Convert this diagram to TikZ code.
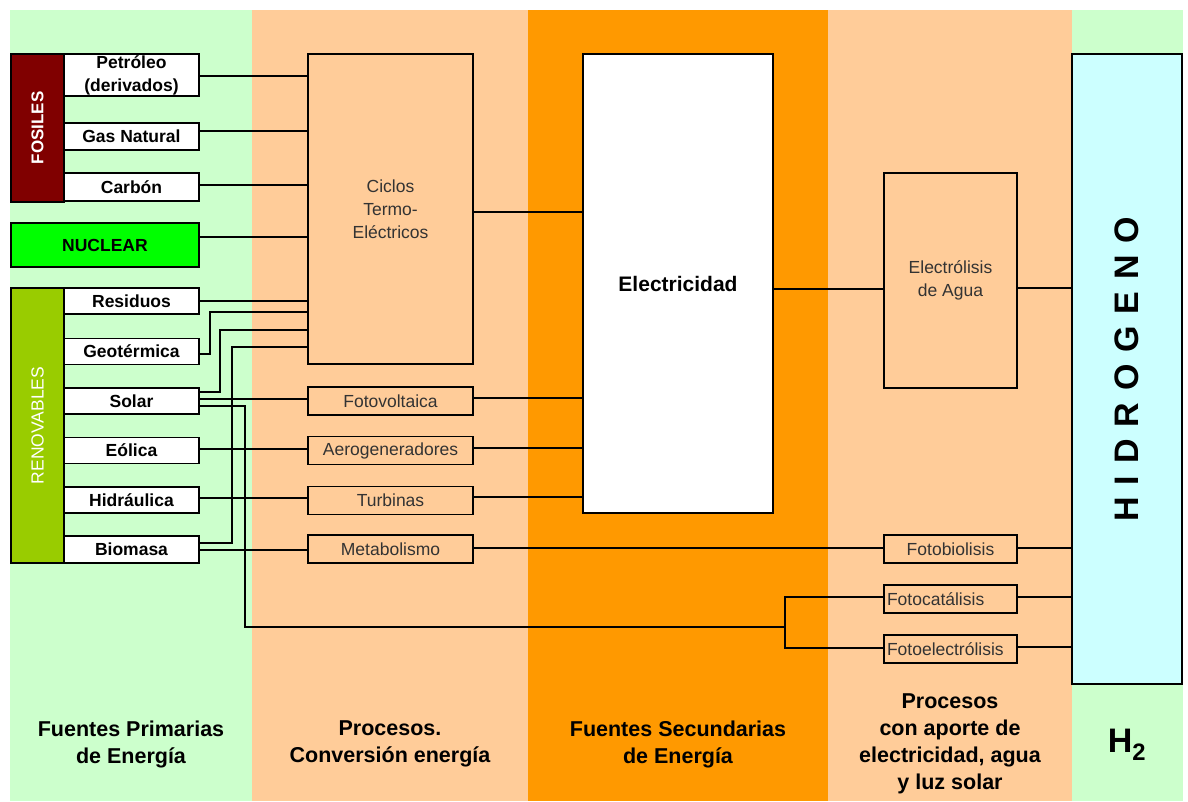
\documentclass[tikz,border=0pt]{standalone}
\usepackage{fontspec}
\setmainfont{Liberation Sans}
\definecolor{lgreen}{HTML}{CCFFCC}
\definecolor{lorange}{HTML}{FFCC99}
\definecolor{dorange}{HTML}{FF9900}
\definecolor{lcyan}{HTML}{CCFFFF}
\definecolor{fosred}{HTML}{800000}
\definecolor{nucgreen}{HTML}{00FF00}
\definecolor{rengreen}{HTML}{99CC00}
\definecolor{txtgray}{HTML}{333333}
\tikzset{
 box/.style={draw=black, line width=1.6pt, inner sep=0pt, align=center},
 src/.style={box, fill=white, minimum width=135pt, minimum height=26pt, font=\fontsize{17.5}{23}\selectfont\bfseries},
 proc/.style={box, fill=lorange, minimum width=165pt, minimum height=28pt, font=\fontsize{17.5}{23}\selectfont, text=txtgray},
 hproc/.style={proc, minimum width=133pt},
 link/.style={draw=black, line width=1.1pt},
 coltitle/.style={font=\fontsize{21.5}{27}\selectfont\bfseries, align=center},
}
\begin{document}
\begin{tikzpicture}[x=1pt,y=-1pt]
\useasboundingbox (0,0) rectangle (1188,801);
% columns
\fill[lgreen] (10,10) rectangle (252,801);
\fill[lorange] (252,10) rectangle (528,801);
\fill[dorange] (528,10) rectangle (828,801);
\fill[lorange] (828,10) rectangle (1072,801);
\fill[lgreen] (1072,10) rectangle (1183,801);

% primary sources
\node[box, fill=fosred, rotate=90, minimum width=148pt, minimum height=53pt, text=white, font=\fontsize{17}{20}\selectfont\bfseries] (fos) at (37.5,128) {FOSILES};
\node[src, minimum height=42pt] (petro) at (131.5,75) {Petróleo\\(derivados)};
\node[src, minimum height=27pt] (gas) at (131.5,136.5) {Gas Natural};
\node[src, minimum height=28pt] (carbon) at (131.5,187) {Carbón};
\node[box, fill=nucgreen, minimum width=188pt, minimum height=44pt, font=\fontsize{17.5}{20}\selectfont\bfseries] (nuc) at (105,245) {NUCLEAR};
\node[box, fill=rengreen, rotate=90, minimum width=275pt, minimum height=53pt, text=white, font=\fontsize{17.5}{20}\selectfont] (ren) at (37.5,425.5) {RENOVABLES};
\node[src] (resid) at (131.5,301) {Residuos};
\node[src] (geo) at (131.5,351.5) {Geotérmica};
\node[src] (solar) at (131.5,401) {Solar};
\node[src] (eol) at (131.5,450.5) {Eólica};
\node[src] (hid) at (131.5,500) {Hidráulica};
\node[src, minimum height=27pt] (bio) at (131.5,549.5) {Biomasa};

% conversion processes
\node[proc, minimum height=310pt] (ciclos) at (390.5,209) {Ciclos\\Termo-\\Eléctricos};
\node[proc] (fv) at (390.5,401) {Fotovoltaica};
\node[proc] (aero) at (390.5,450.5) {Aerogeneradores};
\node[proc] (turb) at (390.5,500.5) {Turbinas};
\node[proc] (metab) at (390.5,549) {Metabolismo};

% secondary
\node[box, fill=white, minimum width=190pt, minimum height=459pt, font=\fontsize{21}{25}\selectfont\bfseries] (elec) at (678,283.5) {Electricidad};

% hydrogen processes
\node[hproc, minimum height=215pt] (ely) at (950.5,280.5) {Electrólisis\\de Agua};
\node[hproc] (fbio) at (950.5,549) {Fotobiolisis};
\node[hproc, text width=127pt, align=left] (fcat) at (950.5,599) {Fotocatálisis};
\node[hproc, text width=127pt, align=left] (fel) at (950.5,649) {Fotoelectrólisis};

% hydrogen
\node[box, fill=lcyan, rotate=90, minimum width=630pt, minimum height=110pt, font=\fontsize{34}{40}\selectfont\bfseries\addfontfeature{LetterSpace=35}] (h2box) at (1127,369) {HIDROGENO};
\coordinate (h2left) at (1072,369);

% connectors
\draw[link] (petro.east |- 0,76) -- (ciclos.west |- 0,76);
\draw[link] (gas.east |- 0,131) -- (ciclos.west |- 0,131);
\draw[link] (carbon.east |- 0,185) -- (ciclos.west |- 0,185);
\draw[link] (nuc.east |- 0,237) -- (ciclos.west |- 0,237);
\draw[link] (resid.east |- 0,301) -- (ciclos.west |- 0,301);
\draw[link] (geo.east |- 0,354) -- (210,354) -- (210,312) -- (ciclos.west |- 0,312);
\draw[link] (solar.east |- 0,392) -- (220,392) -- (220,330) -- (ciclos.west |- 0,330);
\draw[link] (bio.east |- 0,543) -- (232,543) -- (232,347) -- (ciclos.west |- 0,347);
\draw[link] (solar.east |- 0,399) -- (fv.west |- 0,399);
\draw[link] (eol.east |- 0,449) -- (aero.west |- 0,449);
\draw[link] (hid.east |- 0,498) -- (turb.west |- 0,498);
\draw[link] (bio.east |- 0,550) -- (metab.west |- 0,550);
\coordinate (fork) at (785,627);
\draw[link] (solar.east |- 0,406) -- (245,406) -- (245,627) -- (fork);
\draw[link] (fcat.west |- 0,597) -- (785,597) -- (785,648) -- (fel.west |- 0,648);
\draw[link] (ciclos.east |- 0,212) -- (elec.west |- 0,212);
\draw[link] (fv.east |- 0,398) -- (elec.west |- 0,398);
\draw[link] (aero.east |- 0,448) -- (elec.west |- 0,448);
\draw[link] (turb.east |- 0,497) -- (elec.west |- 0,497);
\draw[link] (metab.east |- 0,548) -- (fbio.west |- 0,548);
\draw[link] (elec.east |- 0,289) -- (ely.west |- 0,289);
\draw[link] (ely.east |- 0,288) -- (h2box.north |- 0,288);
\draw[link] (fbio.east |- 0,548) -- (h2box.north |- 0,548);
\draw[link] (fcat.east |- 0,597) -- (h2box.north |- 0,597);
\draw[link] (fel.east |- 0,647) -- (h2box.north |- 0,647);

% column titles
\node[coltitle] (t1) at (131,744) {Fuentes Primarias\\de Energía};
\node[coltitle] (t2) at (390,744) {Procesos.\\Conversión energía};
\node[coltitle] (t3) at (678,744) {Fuentes Secundarias\\de Energía};
\node[coltitle] (t4) at (950,744) {Procesos\\con aporte de\\electricidad, agua\\y luz solar};
\node[font=\fontsize{34}{40}\selectfont\bfseries] (t5) at (1127,745) {H$_{\mathbf 2}$};
\end{tikzpicture}
\end{document}
